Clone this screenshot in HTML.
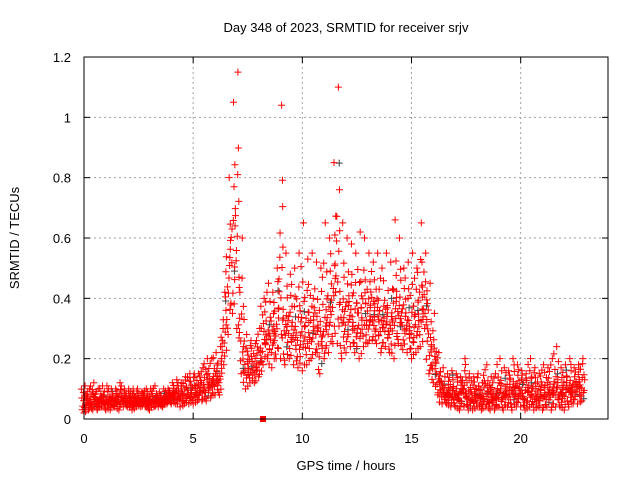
<!DOCTYPE html>
<html><head><meta charset="utf-8"><style>
body{margin:0;background:#fff;}
svg{display:block;font-family:"Liberation Sans",sans-serif;}
</style></head><body>
<svg id="chart" width="640" height="480" viewBox="0 0 640 480"></svg>
<script>
const xTicks=[0,5,10,15,20];
const yTicks=[0,0.2,0.4,0.6,0.8,1,1.2];
const yTickLabels=["0","0.2","0.4","0.6","0.8","1","1.2"];
const startHour=0, stepHour=0.2;
const loVals=[0.02,0.03,0.03,0.03,0.04,0.03,0.03,0.04,0.03,0.04,0.04,0.03,0.04,0.04,0.04,0.03,0.04,0.04,0.04,0.05,0.05,0.05,0.04,0.05,0.05,
0.05,0.06,0.06,0.06,0.07,0.08,0.08,
0.18,0.28,0.35,0.3,0.15,
0.1,0.12,0.12,0.14,
0.18,0.2,0.17,0.2,0.2,
0.18,0.2,0.18,0.17,0.16,0.18,0.2,0.22,0.15,0.2,0.22,0.25,
0.25,0.2,0.22,0.24,0.22,0.2,0.24,0.25,0.26,0.25,0.22,0.24,0.22,0.2,0.25,0.23,0.22,0.2,0.22,0.24,0.3,
0.15,0.12,0.08,0.05,0.05,
0.04,0.04,0.03,0.04,0.03,0.03,0.04,0.03,0.04,0.03,0.03,0.04,0.03,0.04,0.03,0.04,0.04,0.03,0.04,0.03,0.04,0.03,0.04,0.03,0.04,0.04,0.03,0.04,0.05,0.05,0.06];
const hiVals=[0.11,0.1,0.12,0.1,0.11,0.11,0.1,0.1,0.12,0.1,0.1,0.1,0.1,0.09,0.1,0.1,0.11,0.09,0.1,0.1,0.12,0.13,0.12,0.14,0.15,
0.15,0.15,0.17,0.2,0.2,0.22,0.24,
0.42,0.8,1.05,1.15,0.6,
0.28,0.26,0.25,0.3,
0.4,0.45,0.42,0.5,1.04,
0.55,0.48,0.5,0.55,0.65,0.53,0.55,0.52,0.5,0.65,0.6,0.85,
1.1,0.65,0.6,0.58,0.55,0.62,0.6,0.55,0.52,0.55,0.5,0.55,0.52,0.66,0.6,0.5,0.52,0.55,0.5,0.65,0.55,
0.45,0.35,0.22,0.17,0.15,
0.16,0.15,0.14,0.2,0.15,0.14,0.15,0.12,0.18,0.14,0.15,0.2,0.17,0.16,0.2,0.18,0.16,0.15,0.2,0.17,0.15,0.18,0.17,0.2,0.24,0.17,0.18,0.2,0.17,0.18,0.2];
const gapHours=[8.2];

const X0=84,X1=608,Y0=419,Y1=57,XMAX=24,YMAX=1.2;
const sx=v=>X0+v/XMAX*(X1-X0);
const sy=v=>Y0-v/YMAX*(Y0-Y1);
const NS="http://www.w3.org/2000/svg";
const svg=document.getElementById('chart');
function mk(t,a,p){const e=document.createElementNS(NS,t);for(const k in a)e.setAttribute(k,a[k]);(p||svg).appendChild(e);return e;}

const grid=mk('g',{});


xTicks.forEach(v=>{if(v>0)mk('line',{x1:sx(v),x2:sx(v),y1:Y0,y2:Y1,stroke:'#a0a0a0','stroke-dasharray':'2,3'},grid);});
yTicks.forEach(v=>{if(v>0&&v<YMAX)mk('line',{x1:X0,x2:X1,y1:sy(v),y2:sy(v),stroke:'#a0a0a0','stroke-dasharray':'2,3'},grid);});

const pts=mk('g',{});


const fr=[0.5,0.25,0.75,0.12,0.38,0.62,0.88,0.45,0.3,0.05,0.2,0.55,0.33];
const dx=[0,0.05,-0.06,0.09,-0.03,0.07,-0.08,0.02,0.1,-0.1,0.04,0.13,-0.12,0.11,-0.02];
let d1='',d2='';
loVals.forEach((lo,i)=>{
  const hi=hiVals[i];
  const t=startHour+i*stepHour;
  dx.forEach((o,j)=>{
    let v;
    if(j===0)v=lo;
    else if(j===1)v=hi;
    else{
      const f=fr[(j*7+i*4)%fr.length];
      const big=hi-lo>0.3;
      v=lo+(hi-lo)*(big?f*0.8:f);
    }
    const x=sx(t+o),y=sy(v);
    const s=`M${x-3.5},${y}h7M${x},${y-3.5}v7`;
    if(j===3&&i%2===0)d2+=s;else d1+=s;
  });
});
const pg=mk('path',{d:d2,stroke:'#404040','stroke-width':1,fill:'none'},pts);


const pr=mk('path',{d:d1,stroke:'#ff0000','stroke-width':1,fill:'none'},pts);


gapHours.forEach(h=>{const r=mk('rect',{x:sx(h)-3,y:Y0-3,width:6,height:6,fill:'#ff0000'},pts);

});

const fr2=mk('rect',{x:X0,y:Y1,width:X1-X0,height:Y0-Y1,fill:'none',stroke:'#000'});


xTicks.forEach(v=>{
  mk('line',{x1:sx(v),x2:sx(v),y1:Y0,y2:Y0-6,stroke:'#000'});
  mk('line',{x1:sx(v),x2:sx(v),y1:Y1,y2:Y1+6,stroke:'#000'});
  const t=mk('text',{x:sx(v),y:Y0+24,'text-anchor':'middle','font-size':13});t.textContent=v;
  
  
});
yTicks.forEach((v,i)=>{
  mk('line',{x1:X0,x2:X0+6,y1:sy(v),y2:sy(v),stroke:'#000'});
  mk('line',{x1:X1,x2:X1-6,y1:sy(v),y2:sy(v),stroke:'#000'});
  const t=mk('text',{x:X0-13,y:sy(v)+5,'text-anchor':'end','font-size':13});t.textContent=yTickLabels[i];
  
  
});
const ti=mk('text',{x:346,y:32,'text-anchor':'middle','font-size':13});ti.textContent='Day 348 of 2023, SRMTID for receiver srjv';


const xt=mk('text',{x:346,y:470,'text-anchor':'middle','font-size':13});xt.textContent='GPS time / hours';


const yt=mk('text',{x:0,y:0,'text-anchor':'middle','font-size':13,transform:'translate(19,238) rotate(-90)'});yt.textContent='SRMTID / TECUs';


</script>
</body></html>
